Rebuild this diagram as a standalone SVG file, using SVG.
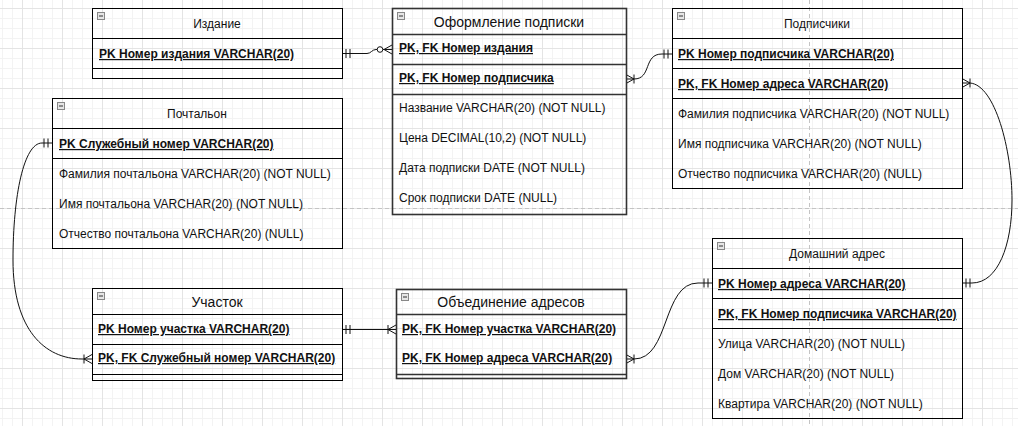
<svg xmlns="http://www.w3.org/2000/svg" width="1018" height="426" viewBox="0 0 1018 426">
<style>
.box{fill:none;stroke:#000;stroke-width:1}
.box2{fill:none;stroke:#333;stroke-width:1.6}
.sep{stroke:#000;stroke-width:1}
.sep2{stroke:#333;stroke-width:1.6}
.t{font-family:"Liberation Sans",Arial,sans-serif;font-size:12px;fill:#111}
.pk{font-family:"Liberation Sans",Arial,sans-serif;font-size:12px;font-weight:bold;fill:#111;text-decoration:underline}
.h12{font-family:"Liberation Sans",Arial,sans-serif;font-size:12px;fill:#111;text-anchor:middle}
.h14{font-family:"Liberation Sans",Arial,sans-serif;font-size:14px;fill:#111;text-anchor:middle}
.ico{fill:#e6e6e6;stroke:#888;stroke-width:1}
.icm{stroke:#333;stroke-width:1}
.c{fill:none;stroke:#111;stroke-width:1}
</style>
<defs>
<pattern id="gmin" width="10" height="10" x="2" y="8" patternUnits="userSpaceOnUse"><path d="M0 0.5H10M0.5 0V10" stroke="#f3f3f3" stroke-width="1" fill="none"/></pattern>
<pattern id="gmaj" width="40" height="40" x="22" y="8" patternUnits="userSpaceOnUse"><path d="M0 0.5H40M0.5 0V40" stroke="#e4e4e4" stroke-width="1" fill="none"/></pattern>
<marker id="one" viewBox="-14 -7 16 14" refX="0" refY="0" markerWidth="16" markerHeight="14" markerUnits="userSpaceOnUse" orient="auto-start-reverse"><path d="M-4,-4.5V4.5M-8,-4.5V4.5" stroke="#111" stroke-width="1" fill="none"/></marker>
<marker id="many1" viewBox="-14 -7 16 14" refX="0" refY="0" markerWidth="16" markerHeight="14" markerUnits="userSpaceOnUse" orient="auto-start-reverse"><path d="M0,-4.5L-8,0L0,4.5M-8,-4.5V4.5" stroke="#111" stroke-width="1" fill="none"/></marker>
<marker id="many0" viewBox="-18 -7 20 14" refX="0" refY="0" markerWidth="20" markerHeight="14" markerUnits="userSpaceOnUse" orient="auto-start-reverse"><path d="M0,-4.5L-8,0L0,4.5" stroke="#111" stroke-width="1" fill="none"/><circle cx="-12" cy="0" r="2.8" fill="#fff" stroke="#111" stroke-width="1"/></marker>
</defs>
<rect width="1018" height="426" fill="#fff"/>
<rect width="1018" height="426" fill="url(#gmin)"/>
<rect width="1018" height="426" fill="url(#gmaj)"/>
<path d="M0 208.5H1018M809.5 0V426" stroke="#c4c4c4" stroke-width="1" stroke-dasharray="4 3" fill="none"/>

<g id="connectors">
<path class="c" d="M342,53.5H367C371,53.5 372,49.5 376,49.5H392" marker-start="url(#one)" marker-end="url(#many0)"/>
<path class="c" d="M626,79H634C652,79 643,54 662,54H672" marker-start="url(#many1)" marker-end="url(#one)"/>
<path class="c" d="M962,83H970C995,85 1012,150 1012,200C1012,245 998,283 972,283H962" marker-start="url(#many1)" marker-end="url(#one)"/>
<path class="c" d="M52,143H42C24,143 13,195 13,260C13,330 45,359 82,359H92" marker-start="url(#one)" marker-end="url(#many1)"/>
<path class="c" d="M342,329.5H396" marker-start="url(#one)" marker-end="url(#many1)"/>
<path class="c" d="M626,359H634C670,359 662,283 698,283H712" marker-start="url(#many1)" marker-end="url(#one)"/>
</g>

<g id="izdanie">
<rect class="box" x="92.5" y="8.5" width="250" height="70"/>
<path class="sep" d="M92.5 38.5H342.5M92.5 68.5H342.5"/>
<rect class="ico" x="97.5" y="12.5" width="7" height="7"/><path class="icm" d="M99 16H103"/>
<text class="h12" x="217" y="28">Издание</text>
<text class="pk" x="99" y="58">PK Номер издания VARCHAR(20)</text>
</g>

<g id="oformlenie">
<rect class="box2" x="392.5" y="8.5" width="234" height="206"/>
<path class="sep2" d="M392.5 34.5H626.5M392.5 64.5H626.5M392.5 94.5H626.5"/>
<rect class="ico" x="397.5" y="12.5" width="7" height="7"/><path class="icm" d="M399 16H403"/>
<text class="h14" x="509" y="27">Оформление подписки</text>
<text class="pk" x="399" y="52">PK, FK Номер издания</text>
<text class="pk" x="399" y="82">PK, FK Номер подписчика</text>
<text class="t" x="399" y="112">Название VARCHAR(20) (NOT NULL)</text>
<text class="t" x="399" y="142">Цена DECIMAL(10,2) (NOT NULL)</text>
<text class="t" x="399" y="172">Дата подписки DATE (NOT NULL)</text>
<text class="t" x="399" y="202">Срок подписки DATE (NULL)</text>
</g>

<g id="podpischiki">
<rect class="box" x="672.5" y="8.5" width="290" height="180"/>
<path class="sep" d="M672.5 38.5H962.5M672.5 68.5H962.5M672.5 98.5H962.5"/>
<rect class="ico" x="677.5" y="12.5" width="7" height="7"/><path class="icm" d="M679 16H683"/>
<text class="h12" x="817" y="28">Подписчики</text>
<text class="pk" x="678" y="58">PK Номер подписчика VARCHAR(20)</text>
<text class="pk" x="678" y="88">PK, FK Номер адреса VARCHAR(20)</text>
<text class="t" x="678" y="118">Фамилия подписчика VARCHAR(20) (NOT NULL)</text>
<text class="t" x="678" y="148">Имя подписчика VARCHAR(20) (NOT NULL)</text>
<text class="t" x="678" y="178">Отчество подписчика VARCHAR(20) (NULL)</text>
</g>

<g id="pochtalon">
<rect class="box" x="52.5" y="98.5" width="290" height="150"/>
<path class="sep" d="M52.5 128.5H342.5M52.5 158.5H342.5"/>
<rect class="ico" x="57.5" y="102.5" width="7" height="7"/><path class="icm" d="M59 106H63"/>
<text class="h12" x="197" y="118">Почтальон</text>
<text class="pk" x="59" y="148">PK Служебный номер VARCHAR(20)</text>
<text class="t" x="59" y="178">Фамилия почтальона VARCHAR(20) (NOT NULL)</text>
<text class="t" x="59" y="208">Имя почтальона VARCHAR(20) (NOT NULL)</text>
<text class="t" x="59" y="238">Отчество почтальона VARCHAR(20) (NULL)</text>
</g>

<g id="uchastok">
<rect class="box" x="92.5" y="288.5" width="250" height="92"/>
<path class="sep" d="M92.5 314.5H342.5M92.5 344.5H342.5M92.5 374.5H342.5"/>
<rect class="ico" x="97.5" y="292.5" width="7" height="7"/><path class="icm" d="M99 296H103"/>
<text class="h14" x="217" y="307">Участок</text>
<text class="pk" x="98" y="333">PK Номер участка VARCHAR(20)</text>
<text class="pk" x="98" y="362">PK, FK Служебный номер VARCHAR(20)</text>
</g>

<g id="obedinenie">
<rect class="box2" x="396.5" y="289.5" width="230" height="89"/>
<path class="sep2" d="M396.5 314.5H626.5M396.5 374.5H626.5"/>
<rect class="ico" x="401.5" y="293.5" width="7" height="7"/><path class="icm" d="M403 297H407"/>
<text class="h14" x="511" y="307">Объединение адресов</text>
<text class="pk" x="402" y="333">PK, FK Номер участка VARCHAR(20)</text>
<text class="pk" x="402" y="362">PK, FK Номер адреса VARCHAR(20)</text>
</g>

<g id="domashniy-adres">
<rect class="box" x="712.5" y="238.5" width="250" height="180"/>
<path class="sep" d="M712.5 268.5H962.5M712.5 298.5H962.5M712.5 328.5H962.5"/>
<rect class="ico" x="717.5" y="242.5" width="7" height="7"/><path class="icm" d="M719 246H723"/>
<text class="h12" x="837" y="258">Домашний адрес</text>
<text class="pk" x="718" y="288">PK Номер адреса VARCHAR(20)</text>
<text class="pk" x="718" y="318">PK, FK Номер подписчика VARCHAR(20)</text>
<text class="t" x="718" y="348">Улица VARCHAR(20) (NOT NULL)</text>
<text class="t" x="718" y="378">Дом VARCHAR(20) (NOT NULL)</text>
<text class="t" x="718" y="408">Квартира VARCHAR(20) (NOT NULL)</text>
</g>
</svg>
